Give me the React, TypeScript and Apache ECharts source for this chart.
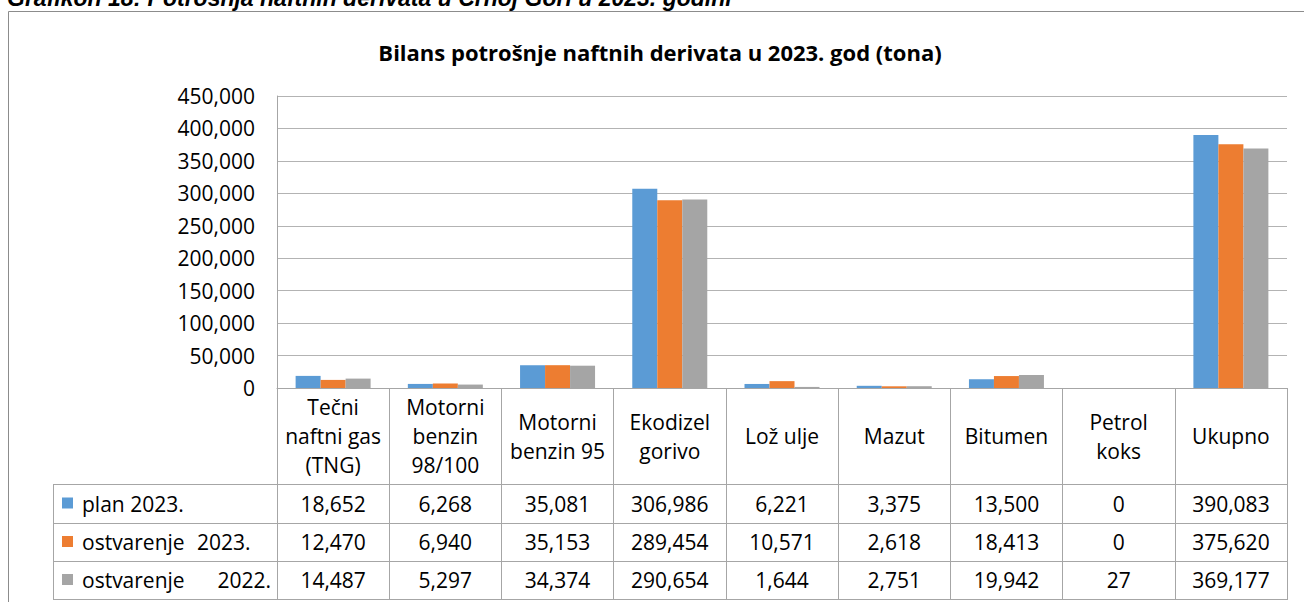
import React, { useEffect, useRef } from "react";
import * as echarts from "echarts";

const categories = [
  "Tečni\nnaftni gas\n(TNG)",
  "Motorni\nbenzin\n98/100",
  "Motorni\nbenzin 95",
  "Ekodizel\ngorivo",
  "Lož ulje",
  "Mazut",
  "Bitumen",
  "Petrol\nkoks",
  "Ukupno",
];
const seriesNames = ["plan 2023.", "ostvarenje  2023.", "ostvarenje 2022."];
const plan2023 = [18652, 6268, 35081, 306986, 6221, 3375, 13500, 0, 390083];
const ostvarenje2023 = [12470, 6940, 35153, 289454, 10571, 2618, 18413, 0, 375620];
const ostvarenje2022 = [14487, 5297, 34374, 290654, 1644, 2751, 19942, 27, 369177];
const colors = ["#5b9bd5", "#ed7d31", "#a5a5a5"];
const yTicks = { min: 0, max: 450000, interval: 50000 };
const chartTitle = "Bilans potrošnje naftnih derivata u 2023. god (tona)";
const caption = "Grafikon 18: Potrošnja naftnih derivata u Crnoj Gori u 2023. godini";

const FONT = "Open Sans";
const LINE = "#a6a6a6";
const fmt = (v: number) => v.toLocaleString("en-US");

export default function App() {
  const ref = useRef<HTMLDivElement>(null);
  useEffect(() => {
    if (!ref.current) return;
    const chart = echarts.init(ref.current, null, { renderer: "svg" });
    const values = [plan2023, ostvarenje2023, ostvarenje2022];
    const gridRight = 1287;
    const gridLeft = 277;
    const axisY = 388;
    const rowLines = [484, 523, 561, 599];
    const rowCenters = [503.5, 542, 580];
    const legendLeft = 53;
    const fs = 21;

    const valueAxes = values.map((arr, k) => ({
      type: "category",
      gridIndex: 0,
      position: "bottom",
      data: categories,
      axisLine: { show: false },
      axisTick: { show: false },
      splitLine: { show: false },
      axisLabel: {
        interval: 0,
        margin: rowCenters[k] - axisY,
        verticalAlign: "middle",
        fontFamily: FONT,
        fontSize: fs,
        color: "#000",
        formatter: (_v: string, i: number) => fmt(arr[i]),
      },
    }));

    const graphic: any[] = [
      {
        type: "text",
        left: 7,
        top: -14,
        style: {
          text: caption,
          font: "italic bold 23px 'Liberation Sans', Arial, sans-serif",
          fill: "#000",
        },
      },
      {
        type: "rect",
        shape: { x: 8.5, y: 11.5, width: 1400, height: 700 },
        style: { fill: "#fff", stroke: "#8c8c8c", lineWidth: 1 },
        silent: true,
        z: -10,
      },
    ];
    rowLines.forEach((y) => {
      graphic.push({
        type: "line",
        shape: { x1: legendLeft, y1: y + 0.5, x2: gridRight, y2: y + 0.5 },
        style: { stroke: LINE, lineWidth: 1 },
      });
    });
    graphic.push({
      type: "line",
      shape: { x1: legendLeft + 0.5, y1: rowLines[0], x2: legendLeft + 0.5, y2: rowLines[3] + 1 },
      style: { stroke: LINE, lineWidth: 1 },
    });
    seriesNames.forEach((name, k) => {
      const cy = rowCenters[k];
      graphic.push({
        type: "rect",
        shape: { x: 62, y: cy - 6, width: 11, height: 11 },
        style: { fill: colors[k] },
      });
      const parts = name.split(/\s+/);
      if (k === 0) {
        graphic.push({
          type: "text",
          x: 82,
          y: cy,
          style: { text: name, font: `${fs}px '${FONT}'`, fill: "#000", verticalAlign: "middle" },
        });
      } else {
        graphic.push({
          type: "text",
          x: 82,
          y: cy,
          style: { text: parts[0], font: `${fs}px '${FONT}'`, fill: "#000", verticalAlign: "middle" },
        });
        graphic.push({
          type: "text",
          x: k === 1 ? 197 : 271,
          y: cy,
          style: {
            text: parts[1],
            font: `${fs}px '${FONT}'`,
            fill: "#000",
            verticalAlign: "middle",
            align: k === 1 ? "left" : "right",
          },
        });
      }
    });

    chart.setOption({
      animation: false,
      backgroundColor: "#fff",
      title: {
        text: chartTitle,
        left: 655,
        top: 36,
        textAlign: "center",
        textStyle: { fontFamily: FONT, fontSize: 22, fontWeight: "bold", color: "#000" },
      },
      grid: { left: gridLeft, right: 1304 - gridRight, top: 96, bottom: 602 - axisY, containLabel: false },
      xAxis: [
        {
          type: "category",
          gridIndex: 0,
          position: "bottom",
          data: categories,
          axisLine: { show: true, lineStyle: { color: LINE } },
          axisTick: { show: true, length: 599 - axisY + 1, lineStyle: { color: LINE } },
          axisLabel: {
            interval: 0,
            margin: 48,
            verticalAlign: "middle",
            lineHeight: 29,
            fontFamily: FONT,
            fontSize: fs,
            color: "#000",
            align: "center",
          },
        },
        ...valueAxes,
      ],
      yAxis: {
        type: "value",
        min: yTicks.min,
        max: yTicks.max,
        interval: yTicks.interval,
        axisLine: { show: true, lineStyle: { color: LINE } },
        axisTick: { show: false },
        splitLine: { lineStyle: { color: "#b3b3b3" } },
        axisLabel: {
          margin: 22,
          fontFamily: FONT,
          fontSize: fs,
          color: "#000",
          formatter: (v: number) => fmt(v),
        },
      },
      series: values.map((arr, k) => ({
        type: "bar",
        name: seriesNames[k],
        data: arr,
        xAxisIndex: 0,
        barWidth: 25,
        barGap: "0%",
        itemStyle: { color: colors[k] },
      })),
      graphic,
    });
    return () => chart.dispose();
  }, []);
  return (
    <div
      ref={ref}
      style={{ position: "fixed", left: 0, top: 0, width: 1304, height: 602, background: "#fff" }}
    />
  );
}
